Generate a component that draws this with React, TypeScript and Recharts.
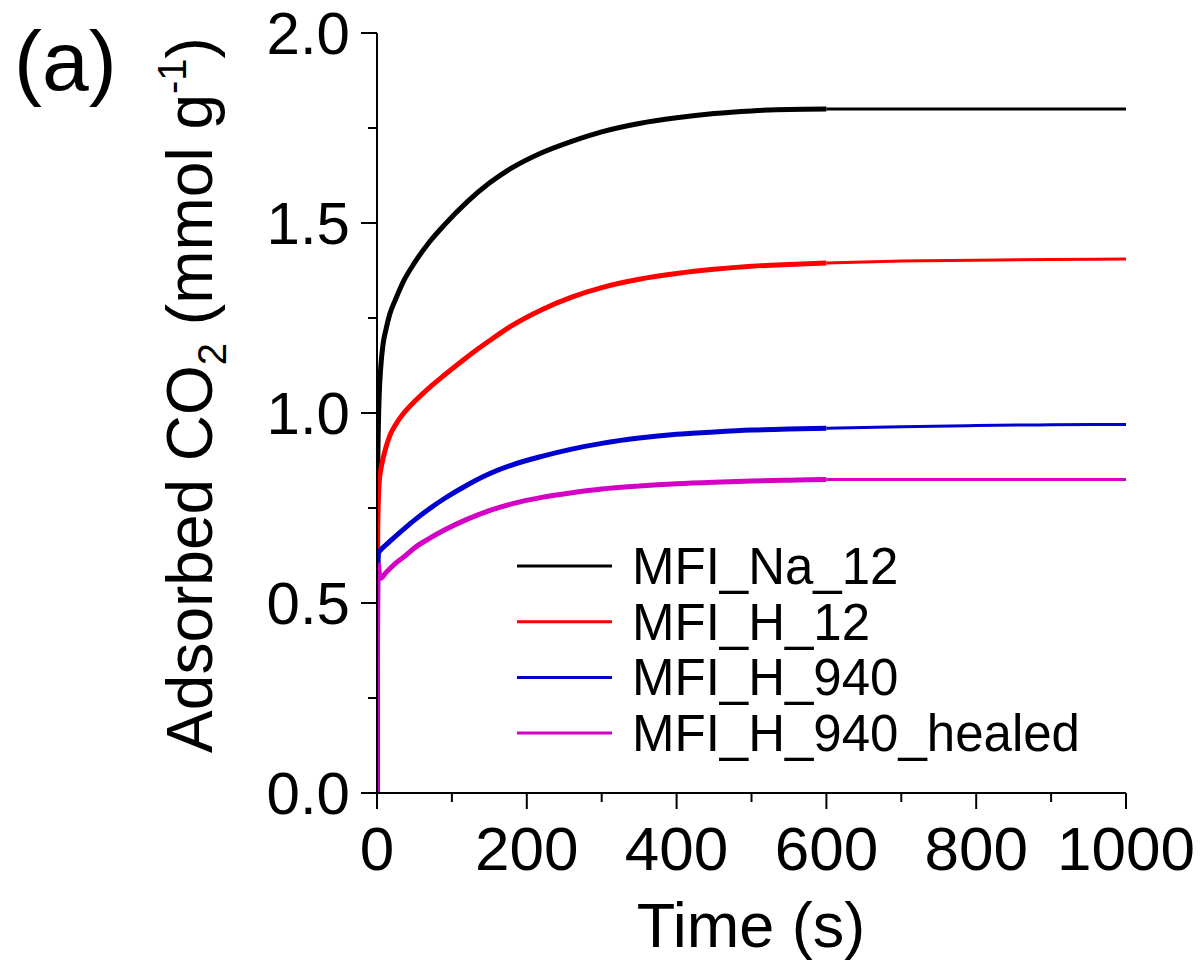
import React from "react";
import { LineChart, Line, XAxis, YAxis } from "recharts";

// time (s)
const times = [0, 0.5, 1, 2, 3, 5, 8, 12, 17, 25, 35, 50, 70, 90, 120, 150, 180, 220, 260, 300, 350, 400, 450, 500, 550, 600, 700, 800, 900, 1000];

const naValues = [0, 0.6, 0.85, 0.98, 1.05, 1.12, 1.18, 1.22, 1.26, 1.3, 1.345, 1.395, 1.45, 1.495, 1.555, 1.605, 1.645, 1.685, 1.715, 1.74, 1.762, 1.777, 1.788, 1.795, 1.799, 1.8, 1.8, 1.8, 1.8, 1.8];
const h12Values = [0, 0.4, 0.7, 0.78, 0.82, 0.85, 0.88, 0.91, 0.94, 0.97, 0.998, 1.03, 1.067, 1.1, 1.147, 1.19, 1.23, 1.272, 1.305, 1.33, 1.352, 1.367, 1.378, 1.386, 1.391, 1.395, 1.4, 1.402, 1.404, 1.405];
const h940Values = [0, 0.3, 0.55, 0.63, 0.635, 0.64, 0.646, 0.653, 0.662, 0.676, 0.693, 0.718, 0.748, 0.775, 0.81, 0.84, 0.863, 0.886, 0.905, 0.92, 0.934, 0.944, 0.95, 0.955, 0.958, 0.96, 0.964, 0.967, 0.969, 0.97];
const healedValues = [0, 0.3, 0.55, 0.6, 0.58, 0.565, 0.57, 0.58, 0.59, 0.605, 0.62, 0.645, 0.67, 0.692, 0.72, 0.743, 0.761, 0.778, 0.79, 0.8, 0.808, 0.814, 0.818, 0.821, 0.823, 0.825, 0.825, 0.825, 0.825, 0.825];

const seriesNames = ["MFI_Na_12", "MFI_H_12", "MFI_H_940", "MFI_H_940_healed"];
const seriesKeys = ["na", "h12", "h940", "healed"];
const seriesColors = ["#000000", "#ff0000", "#0000d0", "#d400c4"];
const seriesValues = [naValues, h12Values, h940Values, healedValues];

const xTicks = [0, 100, 200, 300, 400, 500, 600, 700, 800, 900, 1000];
const yTicks = [0, 0.25, 0.5, 0.75, 1, 1.25, 1.5, 1.75, 2];

// dense part (to 600 s) drawn thicker, tail drawn thinner
const data = times.map((t, i) => {
  const row: Record<string, number | null> = { t };
  seriesKeys.forEach((k, s) => {
    row[k + "A"] = t <= 600 ? seriesValues[s][i] : null;
    row[k + "B"] = t >= 600 ? seriesValues[s][i] : null;
  });
  return row;
});

const FONT = "'Liberation Sans', Arial, sans-serif";

const XTick = (props: any) => {
  const { x, y, payload } = props;
  const v = payload.value;
  const major = v % 200 === 0;
  return (
    <g>
      <line x1={x} x2={x} y1={y} y2={y + (major ? 16 : 9)} stroke="#000" strokeWidth={2} />
      {major && (
        <text x={x} y={y + 77} textAnchor="middle" fontSize={62} fontFamily={FONT} fill="#000">
          {v}
        </text>
      )}
    </g>
  );
};

const YTick = (props: any) => {
  const { x, y, payload } = props;
  const v = payload.value;
  const major = Math.abs((v * 2) % 1) < 1e-6;
  return (
    <g>
      <line x1={x - (major ? 16 : 9)} x2={x} y1={y} y2={y} stroke="#000" strokeWidth={2} />
      {major && (
        <text x={x - 27} y={y + 21} textAnchor="end" fontSize={60} fontFamily={FONT} fill="#000">
          {v.toFixed(1)}
        </text>
      )}
    </g>
  );
};

export default function App() {
  return (
    <div style={{ position: "absolute", left: 0, top: 0, width: 1201, height: 970, background: "#fff" }}>
      <LineChart width={1201} height={970} data={data} margin={{ top: 33, right: 75, bottom: 97, left: 297 }}>
        <XAxis
          xAxisId="b"
          dataKey="t"
          type="number"
          domain={[0, 1000]}
          ticks={xTicks}
          interval={0}
          height={80}
          tickSize={0}
          tickMargin={0}
          tickLine={false}
          tick={<XTick />}
          axisLine={{ stroke: "#000", strokeWidth: 2 }}
          allowDataOverflow
        />
        <XAxis
          xAxisId="top"
          orientation="top"
          type="number"
          domain={[0, 1000]}
          height={0}
          tick={false}
          tickLine={false}
          axisLine={{ stroke: "#000", strokeWidth: 2 }}
        />
        <YAxis
          yAxisId="l"
          type="number"
          domain={[0, 2]}
          ticks={yTicks}
          interval={0}
          width={80}
          tickSize={0}
          tickMargin={0}
          tickLine={false}
          tick={<YTick />}
          axisLine={{ stroke: "#000", strokeWidth: 2 }}
          allowDataOverflow
        />
        <YAxis
          yAxisId="r"
          orientation="right"
          type="number"
          domain={[0, 2]}
          width={0}
          tick={false}
          tickLine={false}
          axisLine={{ stroke: "#000", strokeWidth: 2 }}
        />
        {seriesKeys.map((k, s) => (
          <Line
            key={k + "A"}
            xAxisId="b"
            yAxisId="l"
            type="monotone"
            dataKey={k + "A"}
            stroke={seriesColors[s]}
            strokeWidth={5}
            dot={false}
            isAnimationActive={false}
          />
        ))}
        {seriesKeys.map((k, s) => (
          <Line
            key={k + "B"}
            xAxisId="b"
            yAxisId="l"
            type="monotone"
            dataKey={k + "B"}
            stroke={seriesColors[s]}
            strokeWidth={3}
            dot={false}
            isAnimationActive={false}
          />
        ))}
      </LineChart>
      <svg
        width={1201}
        height={970}
        style={{ position: "absolute", left: 0, top: 0, pointerEvents: "none" }}
        fontFamily={FONT}
      >
        <text x={14} y={90} fontSize={84} fill="#000">(a)</text>
        <text transform="translate(212,395) rotate(-90)" textAnchor="middle" fontSize={64} fill="#000">
          Adsorbed CO
          <tspan fontSize={40} dy={14}>2</tspan>
          <tspan dy={-14}> (mmol g</tspan>
          <tspan fontSize={40} dy={-26}>-1</tspan>
          <tspan dy={26}>)</tspan>
        </text>
        <text x={751} y={947} textAnchor="middle" fontSize={63} fill="#000">Time (s)</text>
        {seriesNames.map((name, i) => (
          <g key={name}>
            <line x1={517} x2={612} y1={566 + i * 55.7} y2={566 + i * 55.7} stroke={seriesColors[i]} strokeWidth={3} />
            <text x={632} y={584 + i * 55.7} fontSize={51} fill="#000">{name}</text>
          </g>
        ))}
      </svg>
    </div>
  );
}
